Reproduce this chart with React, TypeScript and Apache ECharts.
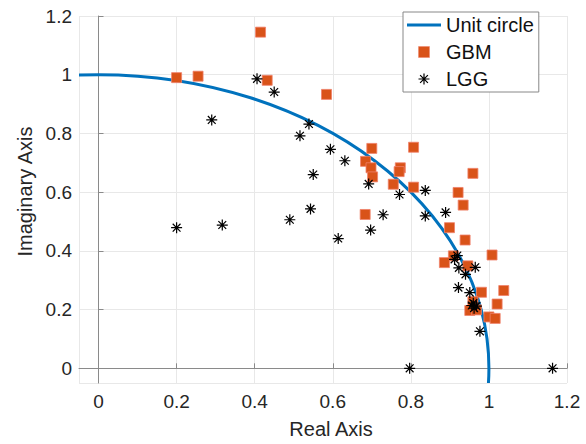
import React, { useEffect, useRef } from "react";
import * as echarts from "echarts";

// Unit circle: center (x, y) and radius
const CIRCLE = [[0, 0, 1]];

const GBM_X = [0.2, 0.255, 0.415, 0.432, 0.584, 0.7, 0.684, 0.698, 0.702, 0.807, 0.773, 0.77, 0.755, 0.807, 0.683, 0.959, 0.921, 0.934, 0.899, 0.939, 1.008, 0.909, 0.886, 0.946, 1.038, 0.981, 1.021, 0.959, 0.951, 0.968, 1.0, 1.016];
const GBM_Y = [0.99, 0.995, 1.145, 0.981, 0.933, 0.749, 0.705, 0.683, 0.652, 0.753, 0.683, 0.67, 0.627, 0.617, 0.524, 0.664, 0.599, 0.556, 0.479, 0.437, 0.386, 0.383, 0.36, 0.349, 0.265, 0.259, 0.219, 0.227, 0.197, 0.199, 0.175, 0.17];

const LGG_X = [0.2, 0.317, 0.29, 0.406, 0.45, 0.539, 0.516, 0.594, 0.631, 0.55, 0.692, 0.771, 0.837, 0.837, 0.543, 0.49, 0.729, 0.697, 0.614, 0.889, 0.919, 0.912, 0.923, 0.965, 0.94, 0.922, 0.951, 0.956, 0.962, 0.968, 0.96, 0.977, 0.797, 1.163];
const LGG_Y = [0.479, 0.488, 0.846, 0.986, 0.941, 0.832, 0.792, 0.746, 0.707, 0.66, 0.628, 0.592, 0.606, 0.519, 0.543, 0.506, 0.523, 0.471, 0.442, 0.531, 0.384, 0.371, 0.342, 0.344, 0.32, 0.275, 0.258, 0.214, 0.205, 0.212, 0.222, 0.126, 0.0, 0.0];

const SERIES_NAMES = ["Unit circle", "GBM", "LGG"];
const AXIS_MIN = -0.05;
const AXIS_MAX = 1.2;
const AXIS_STEP = 0.2;

const ASTERISK =
  "path://M-0.55,-5 L0.55,-5 L0.55,5 L-0.55,5 Z M-5,-0.55 L5,-0.55 L5,0.55 L-5,0.55 Z M-3.15,-3.93 L3.93,3.15 L3.15,3.93 L-3.93,-3.15 Z M3.15,-3.93 L3.93,-3.15 L-3.15,3.93 L-3.93,3.15 Z M-1.2,-1.2 L1.2,-1.2 L1.2,1.2 L-1.2,1.2 Z";
const SQUARE = "path://M0,0 L10,0 L10,10 L0,10 Z";
const LINE_ICON = "path://M0,0 L34,0 L34,3 L0,3 Z";

const FONT = "Liberation Sans, Arial, Helvetica, sans-serif";
const TEXT = "#262626";
const AXIS_COLOR = "#8a8a8a";
const GRID_COLOR = "#e8e8e8";

export default function App() {
  const ref = useRef<HTMLDivElement>(null);
  useEffect(() => {
    if (!ref.current) return;
    const chart = echarts.init(ref.current, undefined, { renderer: "svg" });
    const axisCommon = (name: string) => ({
      type: "value",
      min: AXIS_MIN,
      max: AXIS_MAX,
      splitNumber: 6,
      minInterval: AXIS_STEP,
      maxInterval: AXIS_STEP,
      name,
      nameLocation: "middle",
      nameTextStyle: { fontFamily: FONT, fontSize: 20, color: TEXT, padding: [0, 0, 0, 16] },
      axisLine: { show: true, lineStyle: { color: AXIS_COLOR, width: 1 } },
      axisTick: { show: true, inside: true, length: 5, lineStyle: { color: AXIS_COLOR } },
      axisLabel: { fontFamily: FONT, fontSize: 19, color: TEXT, showMinLabel: false },
      splitLine: { show: true, lineStyle: { color: GRID_COLOR, width: 1 } },
    });
    const xAxis: any = axisCommon("Real Axis");
    xAxis.nameGap = 36;
    xAxis.axisLabel.margin = 9;
    const yAxis: any = axisCommon("Imaginary Axis");
    yAxis.nameGap = 44;
    yAxis.axisLabel.margin = 7;

    chart.setOption({
      animation: false,
      grid: { left: 79, right: 19, top: 16, bottom: 60, containLabel: false },
      xAxis,
      yAxis,
      legend: {
        left: 403,
        top: 12,
        orient: "vertical",
        align: "left",
        itemWidth: 34,
        itemHeight: 11,
        itemGap: 7,
        itemTextGap: 3,
        padding: [3, 5, 3, 4],
        backgroundColor: "#ffffff",
        borderColor: "#888888",
        borderWidth: 1,
        textStyle: { fontFamily: FONT, fontSize: 20, color: "#111111", lineHeight: 20 },
        data: [
          { name: SERIES_NAMES[0], icon: LINE_ICON, itemStyle: { color: "#0072BD" } },
          { name: SERIES_NAMES[1], icon: SQUARE, itemStyle: { color: "#D95319", borderColor: "#F0806A", borderWidth: 0.5 } },
          { name: SERIES_NAMES[2], icon: ASTERISK, itemStyle: { color: "#000000" } },
        ],
      },
      series: [
        {
          name: SERIES_NAMES[0],
          type: "custom",
          clip: true,
          silent: true,
          itemStyle: { color: "#0072BD" },
          encode: { x: 0, y: 1 },
          data: CIRCLE,
          renderItem: (params: any, api: any) => {
            const cx = api.value(0);
            const cy = api.value(1);
            const r = api.value(2);
            const c = api.coord([cx, cy]);
            const px = api.coord([cx + r, cy]);
            const py = api.coord([cx, cy + r]);
            return {
              type: "ellipse",
              shape: { cx: c[0], cy: c[1], rx: px[0] - c[0], ry: c[1] - py[1] },
              style: { fill: "none", stroke: "#0072BD", lineWidth: 3 },
            };
          },
        },
        {
          name: SERIES_NAMES[1],
          type: "scatter",
          symbol: "rect",
          symbolSize: 10,
          itemStyle: { color: "#D95319", borderColor: "#F0806A", borderWidth: 0.8, opacity: 1 },
          data: GBM_X.map((x, i) => [x, GBM_Y[i]]),
        },
        {
          name: SERIES_NAMES[2],
          type: "scatter",
          symbol: ASTERISK,
          symbolSize: 11,
          itemStyle: { color: "#000000", opacity: 1 },
          data: LGG_X.map((x, i) => [x, LGG_Y[i]]),
        },
      ],
    });
    return () => chart.dispose();
  }, []);
  return (
    <div
      ref={ref}
      style={{ position: "fixed", left: 0, top: 0, width: 586, height: 444, background: "#ffffff" }}
    />
  );
}
